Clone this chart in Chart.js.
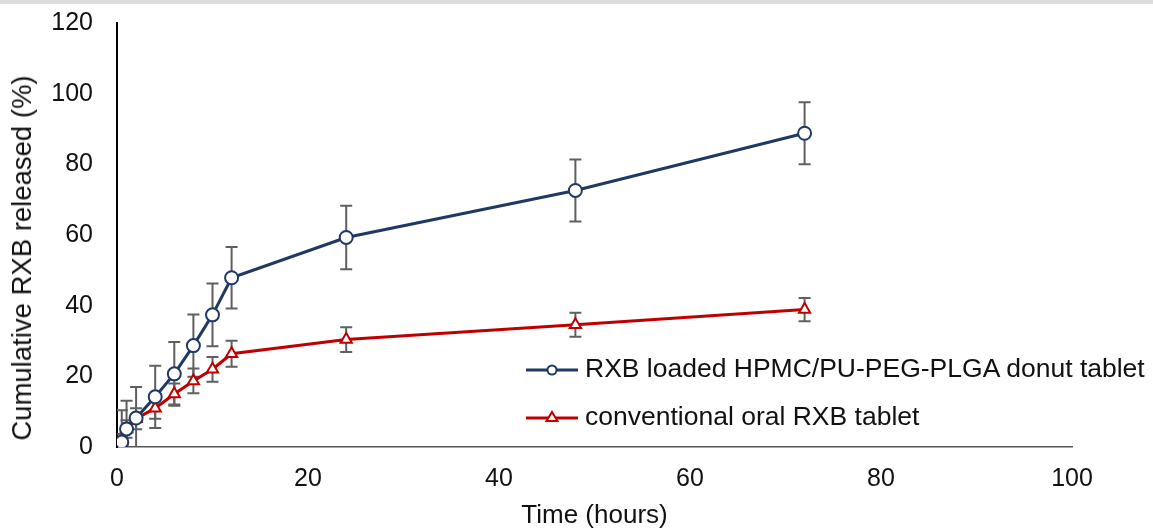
<!DOCTYPE html>
<html>
<head>
<meta charset="utf-8">
<script src="https://cdn.jsdelivr.net/npm/chart.js@4"></script>
<style>
  html, body { margin: 0; padding: 0; background: #fff; }
  #wrap { position: relative; width: 1153px; height: 529px; overflow: hidden; }
  #topRule { position: absolute; left: 0; top: 0; width: 1153px; height: 4px; background: #dcdcdc; }
  #yTitle {
    position: absolute; left: 22px; top: 258px;
    transform: translate(-50%, -50%) rotate(-90deg);
    font: 27.5px "Liberation Sans", Arial, sans-serif; color: #111; white-space: nowrap;
  }
  .legTxt { position: absolute; font: 26.5px "Liberation Sans", Arial, sans-serif; line-height: 30px; color: #111; white-space: nowrap; }
  .legKey { position: absolute; }
</style>
</head>
<body>
<div id="wrap">
  <canvas id="chart" width="1153" height="529"></canvas>
  <div id="topRule"></div>
  <div id="yTitle">Cumulative RXB released (%)</div>
  <svg class="legKey" style="left:524px;top:360px" width="56" height="20">
    <line x1="2" y1="10" x2="54" y2="10" stroke="#203864" stroke-width="3"/>
    <circle cx="28" cy="10" r="4.5" fill="#fff" stroke="#203864" stroke-width="2"/>
  </svg>
  <div class="legTxt" style="left:585px;top:353px">RXB loaded HPMC/PU-PEG-PLGA donut tablet</div>
  <svg class="legKey" style="left:524px;top:408px" width="56" height="20">
    <line x1="2" y1="10" x2="54" y2="10" stroke="#c00000" stroke-width="3"/>
    <polygon points="28,4 33.5,13 22.5,13" fill="#fff" stroke="#c00000" stroke-width="2"/>
  </svg>
  <div class="legTxt" style="left:585px;top:401px">conventional oral RXB tablet</div>
</div>
<script>
// sampling times (hours)
const times = [0.5, 1, 2, 4, 6, 8, 10, 12, 24, 48, 72];

// cumulative release (%) and standard deviations
const donutRelease = [1.4, 5.1, 8.2, 14.2, 20.7, 28.7, 37.4, 47.9, 59.3, 72.6, 88.8];
const donutSd = [9.0, 8.0, 8.8, 8.8, 9.0, 8.8, 8.9, 8.7, 9.0, 8.8, 8.8];
const tabletRelease = [1.7, 5.1, 8.0, 11.0, 15.0, 18.7, 22.0, 26.4, 30.4, 34.6, 38.9];
const tabletSd = [2.0, 2.5, 3.0, 3.0, 3.0, 3.5, 3.5, 3.7, 3.5, 3.4, 3.3];

const xTicks = [0, 20, 40, 60, 80, 100];
const yTicks = [0, 20, 40, 60, 80, 100, 120];

const BLUE = '#203864';
const RED = '#c00000';

const toPoints = (ys) => times.map((t, i) => ({ x: t, y: ys[i] }));

// vertical error bars with caps, drawn under the lines
const errorBars = {
  id: 'errorBars',
  beforeDatasetsDraw(chart) {
    const { ctx, chartArea, scales: { x, y } } = chart;
    ctx.save();
    ctx.beginPath();
    ctx.rect(chartArea.left, chartArea.top, chartArea.right - chartArea.left, chartArea.bottom - chartArea.top);
    ctx.clip();
    ctx.strokeStyle = '#5f5f5f';
    ctx.lineWidth = 2;
    chart.data.datasets.forEach((ds) => {
      ds.sd.forEach((e, i) => {
        const px = x.getPixelForValue(times[i]);
        const top = y.getPixelForValue(ds.data[i].y + e);
        const bot = y.getPixelForValue(ds.data[i].y - e);
        ctx.beginPath();
        ctx.moveTo(px, top); ctx.lineTo(px, bot);
        ctx.moveTo(px - 6, top); ctx.lineTo(px + 6, top);
        ctx.moveTo(px - 6, bot); ctx.lineTo(px + 6, bot);
        ctx.stroke();
      });
    });
    ctx.restore();
  }
};

new Chart(document.getElementById('chart'), {
  type: 'line',
  data: {
    datasets: [
      {
        label: 'RXB loaded HPMC/PU-PEG-PLGA donut tablet',
        data: toPoints(donutRelease),
        sd: donutSd,
        borderColor: BLUE,
        borderWidth: 3,
        pointStyle: 'circle',
        pointRadius: 6.5,
        pointBorderWidth: 2,
        pointBackgroundColor: '#fff',
        pointBorderColor: BLUE
      },
      {
        label: 'conventional oral RXB tablet',
        data: toPoints(tabletRelease),
        sd: tabletSd,
        borderColor: RED,
        borderWidth: 3,
        pointStyle: 'triangle',
        pointRadius: 6.5,
        pointBorderWidth: 2,
        pointBackgroundColor: '#fff',
        pointBorderColor: RED
      }
    ]
  },
  options: {
    responsive: false,
    animation: false,
    layout: { padding: { top: 23, right: 81, left: 0, bottom: 0 } },
    plugins: { legend: { display: false }, tooltip: { enabled: false } },
    scales: {
      x: {
        type: 'linear',
        min: 0, max: 100,
        afterFit: (s) => { s.height = 82; },
        afterBuildTicks: (s) => { s.ticks = xTicks.map((v) => ({ value: v })); },
        grid: { display: false },
        border: { color: '#555', width: 1.5 },
        ticks: { color: '#111', padding: 9, font: { family: '"Liberation Sans", Arial, sans-serif', size: 25 } },
        title: { display: true, text: 'Time (hours)', color: '#111', padding: 0, font: { family: '"Liberation Sans", Arial, sans-serif', size: 26, lineHeight: 1 } }
      },
      y: {
        min: 0, max: 120,
        afterFit: (s) => { s.width = 117; s.paddingTop = 0; s.paddingBottom = 0; },
        afterBuildTicks: (s) => { s.ticks = yTicks.map((v) => ({ value: v })); },
        grid: { display: false },
        border: { color: '#000', width: 2 },
        ticks: { color: '#111', padding: 16, font: { family: '"Liberation Sans", Arial, sans-serif', size: 25 } }
      }
    }
  },
  plugins: [errorBars]
});
</script>
</body>
</html>
